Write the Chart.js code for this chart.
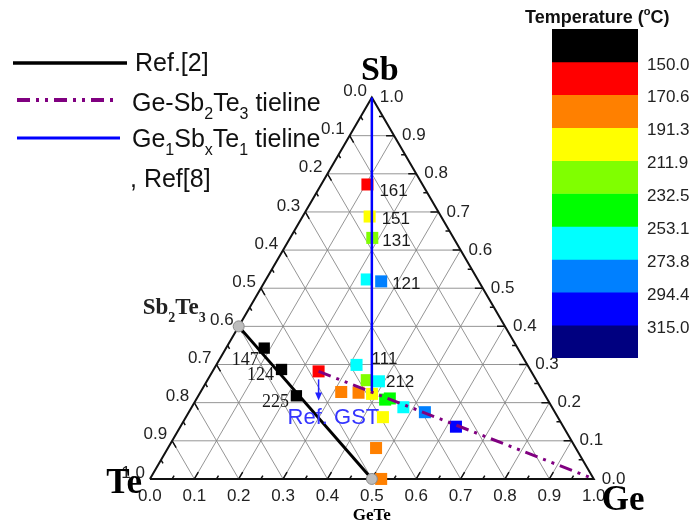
<!DOCTYPE html>
<html>
<head>
<meta charset="utf-8">
<script src="https://cdn.jsdelivr.net/npm/chart.js@4.4.0/dist/chart.umd.min.js"></script>
<style>
  html, body { margin: 0; padding: 0; background: #fff; }
  #wrap { position: relative; width: 692px; height: 531px; }
  #ternary { position: absolute; left: 0; top: 0; }
  #colorbar { position: absolute; left: 552px; top: 19px; }
</style>
</head>
<body>
<div id="wrap">
  <canvas id="ternary" width="692" height="531"></canvas>
  <canvas id="colorbar" width="140" height="349"></canvas>
</div>
<script>
// colour scale: band edges (deg C) and band colours
const tempBounds = [129.4, 150.0, 170.6, 191.3, 211.9, 232.5, 253.1, 273.8, 294.4, 315.0, 335.6];
const bandColors = ['#000000', '#ff0000', '#ff8000', '#ffff00', '#80ff00', '#00ff00', '#00ffff', '#0080ff', '#0000ff', '#000080'];

// measured films: Ge and Sb atomic fraction (Te = rest) and crystallisation temperature
const sampleGe   = [0.104, 0.151, 0.185, 0.227, 0.262, 0.239, 0.316, 0.359, 0.388, 0.317, 0.357, 0.389, 0.426, 0.435, 0.477, 0.532, 0.621, 0.444, 0.469, 0.521];
const sampleSb   = [0.772, 0.688, 0.632, 0.523, 0.518, 0.282, 0.299, 0.259, 0.256, 0.228, 0.226, 0.223, 0.208, 0.211, 0.188, 0.175, 0.137, 0.162, 0.081, 0.000];
const sampleTemp = [160,   201,   222,   263,   284,   160,   263,   222,   263,   181,   181,   201,   243,   243,   263,   284,   305,   201,   181,   181];

// composition names written next to some samples: [sample index, text, dx, dy]
const sampleNames = [[0, '161', 12, 7], [1, '151', 12, 3], [2, '131', 10, 3], [4, '121', 11, 3], [6, '111', 15, -6], [8, '212', 7, 1]];
const gstIndex = 5;

// Ref.[2] compositions along the GeTe-Sb2Te3 line
const refGe = [0.086, 0.153, 0.221];
const refSb = [0.343, 0.287, 0.218];
const refNames = ['147', '124', '225'];

// tielines
const gstLineSb = [1.0, 0.23];            // Ge1SbxTe1, Ge = Te
const geLineGe = [0.239, 1.0];            // towards pure Ge
const geLineSb = [0.282, 0.0];
const endGe = [0.0, 0.5];                 // Sb2Te3 and GeTe
const endSb = [0.4, 0.0];

const axisTicks = [0.0, 0.1, 0.2, 0.3, 0.4, 0.5, 0.6, 0.7, 0.8, 0.9, 1.0];
const minorTicks = [0.05, 0.15, 0.25, 0.35, 0.45, 0.55, 0.65, 0.75, 0.85, 0.95];

const SQ = Math.sqrt(3) / 2;
const GAP = {x: NaN, y: NaN};
function tern(ge, sb) { return {x: ge + sb / 2, y: sb * SQ}; }

function bandColor(t) {
  for (let i = 0; i < bandColors.length; i++) {
    if (t >= tempBounds[i] && t < tempBounds[i + 1]) return bandColors[i];
  }
  return bandColors[bandColors.length - 1];
}

// grid lines, three families
let gridPts = [];
axisTicks.slice(1, -1).forEach(t => {
  gridPts.push(tern(1 - t, t), tern(0, t), GAP);
  gridPts.push(tern(t, 0), tern(t, 1 - t), GAP);
  gridPts.push(tern(1 - t, 0), tern(0, 1 - t), GAP);
});

// tick marks on the three edges
function tickPts(list, len) {
  let pts = [];
  list.forEach(t => {
    pts.push(tern(t, 0), tern(t, len), GAP);
    pts.push(tern(1 - t, t), tern(1 - t - len, t), GAP);
    pts.push(tern(0, 1 - t), tern(len, 1 - t - len), GAP);
  });
  return pts;
}
let ticks = tickPts(axisTicks.slice(1, -1), 0.018).concat(tickPts(minorTicks, 0.009));

const edgePts = [tern(0, 0), tern(1, 0), tern(0, 1), tern(0, 0)];
const samples = sampleGe.map((g, i) => tern(g, sampleSb[i]));
const refs = refGe.map((g, i) => tern(g, refSb[i]));

const FONT = "'Liberation Sans', Arial, sans-serif";
const SERIF = "'Liberation Serif', 'Times New Roman', serif";

// text with sub/superscript runs: [text, 'sub'|'sup'|'']
function drawRuns(ctx, runs, x, y, size, weight, family, align) {
  const small = Math.round(size * 0.62);
  const fontOf = k => weight + ' ' + (k ? small : size) + 'px ' + family;
  let w = 0;
  runs.forEach(r => { ctx.font = fontOf(r[1]); w += ctx.measureText(r[0]).width; });
  let cx = align === 'right' ? x - w : align === 'center' ? x - w / 2 : x;
  ctx.textAlign = 'left';
  ctx.textBaseline = 'alphabetic';
  runs.forEach(r => {
    ctx.font = fontOf(r[1]);
    const dy = r[1] === 'sub' ? size * 0.32 : r[1] === 'sup' ? -size * 0.45 : 0;
    ctx.fillText(r[0], cx, y + dy);
    cx += ctx.measureText(r[0]).width;
  });
}

const textPlugin = {
  id: 'ternaryText',
  afterDatasetsDraw(chart) {
    const ctx = chart.ctx;
    const xs = chart.scales.x, ys = chart.scales.y;
    const pix = p => ({x: xs.getPixelForValue(p.x), y: ys.getPixelForValue(p.y)});
    ctx.save();

    // axis numbers
    ctx.fillStyle = '#222';
    ctx.font = '17px ' + FONT;
    ctx.textBaseline = 'middle';
    axisTicks.forEach(t => {
      const s = t.toFixed(1);
      let p = pix(tern(t, 0));
      ctx.textAlign = 'center';
      ctx.fillText(s, p.x, p.y + 17);
      p = pix(tern(1 - t, t));
      ctx.textAlign = 'left';
      ctx.fillText(s, p.x + 8, p.y);
      p = pix(tern(0, 1 - t));
      ctx.textAlign = 'right';
      ctx.fillText(s, p.x - 5, p.y - 6);
    });

    // corner names
    ctx.fillStyle = '#000';
    const te = pix(tern(0, 0)), ge = pix(tern(1, 0)), sb = pix(tern(0, 1));
    drawRuns(ctx, [['Sb', '']], sb.x + 8, sb.y - 18, 34, 'bold', SERIF, 'center');
    drawRuns(ctx, [['Te', '']], te.x - 8, te.y + 14, 35, 'bold', SERIF, 'right');
    drawRuns(ctx, [['Ge', '']], ge.x + 8, ge.y + 31, 35, 'bold', SERIF, 'left');
    const gt = pix(tern(endGe[1], endSb[1])), st = pix(tern(endGe[0], endSb[0]));
    drawRuns(ctx, [['GeTe', '']], gt.x, gt.y + 41, 17, 'bold', SERIF, 'center');
    ctx.fillStyle = '#222';
    drawRuns(ctx, [['Sb', ''], ['2', 'sub'], ['Te', ''], ['3', 'sub']], st.x - 96, st.y - 12, 23, 'bold', SERIF, 'left');

    // sample names
    ctx.fillStyle = '#1a1a1a';
    ctx.font = '17px ' + FONT;
    ctx.textAlign = 'left';
    ctx.textBaseline = 'middle';
    sampleNames.forEach(n => {
      const p = pix(samples[n[0]]);
      ctx.fillText(n[1], p.x + n[2], p.y + n[3]);
    });
    ctx.font = '18px ' + SERIF;
    ctx.textAlign = 'center';
    const refOff = [[-19, 12], [-21, 6], [-21, 6]];
    refNames.forEach((n, i) => {
      const p = pix(refs[i]);
      ctx.fillText(n, p.x + refOff[i][0], p.y + refOff[i][1]);
    });

    // Ref. GST arrow and name
    const g = pix(samples[gstIndex]);
    ctx.strokeStyle = '#2020ff';
    ctx.fillStyle = '#2020ff';
    ctx.lineWidth = 1.5;
    ctx.beginPath();
    ctx.moveTo(g.x, g.y + 8);
    ctx.lineTo(g.x, g.y + 26);
    ctx.stroke();
    ctx.beginPath();
    ctx.moveTo(g.x - 3.5, g.y + 21);
    ctx.lineTo(g.x + 3.5, g.y + 21);
    ctx.lineTo(g.x, g.y + 29);
    ctx.closePath();
    ctx.fill();
    ctx.fillStyle = '#3535ff';
    drawRuns(ctx, [['Ref. GST', '']], g.x - 31, g.y + 53, 22, 'normal', FONT, 'left');

    // legend
    ctx.lineCap = 'butt';
    ctx.strokeStyle = '#000';
    ctx.lineWidth = 3.5;
    ctx.beginPath(); ctx.moveTo(13, 63); ctx.lineTo(127, 63); ctx.stroke();
    ctx.strokeStyle = '#800080';
    ctx.lineWidth = 4;
    ctx.setLineDash([13, 6, 3, 6, 3, 6]);
    ctx.beginPath(); ctx.moveTo(17, 100); ctx.lineTo(119, 100); ctx.stroke();
    ctx.setLineDash([]);
    ctx.strokeStyle = '#0000ff';
    ctx.lineWidth = 3;
    ctx.beginPath(); ctx.moveTo(17, 138); ctx.lineTo(120, 138); ctx.stroke();
    ctx.fillStyle = '#111';
    drawRuns(ctx, [['Ref.[2]', '']], 135, 71, 25, 'normal', FONT, 'left');
    drawRuns(ctx, [['Ge-Sb', ''], ['2', 'sub'], ['Te', ''], ['3', 'sub'], [' tieline', '']], 132, 111, 25, 'normal', FONT, 'left');
    drawRuns(ctx, [['Ge', ''], ['1', 'sub'], ['Sb', ''], ['x', 'sub'], ['Te', ''], ['1', 'sub'], [' tieline', '']], 132, 147, 25, 'normal', FONT, 'left');
    drawRuns(ctx, [[', Ref[8]', '']], 130, 187, 25, 'normal', FONT, 'left');

    // colour scale title
    drawRuns(ctx, [['Temperature (', ''], ['o', 'sup'], ['C)', '']], 525, 23, 18, 'bold', FONT, 'left');
    ctx.restore();
  }
};

function lineSet(data, color, width, order, dash) {
  return {data: data, showLine: true, borderColor: color, borderWidth: width, pointRadius: 0,
          borderDash: dash || [], order: order, clip: false, spanGaps: false, tension: 0};
}

new Chart(document.getElementById('ternary'), {
  type: 'scatter',
  data: {
    datasets: [
      {data: [tern(endGe[0], endSb[0]), tern(endGe[1], endSb[1])], pointStyle: 'circle', pointRadius: 5.5,
       backgroundColor: '#bdbdbd', borderColor: '#8a8a8a', borderWidth: 1, order: 0, clip: false},
      lineSet([tern(0, gstLineSb[0]), tern((1 - gstLineSb[1]) / 2, gstLineSb[1])], '#0000ff', 2.5, 1),
      lineSet([tern(geLineGe[0], geLineSb[0]), tern(geLineGe[1], geLineSb[1])], '#800080', 3, 1, [13, 6, 3, 6, 3, 6]),
      lineSet([tern(endGe[0], endSb[0]), tern(endGe[1], endSb[1])], '#000000', 3, 1),
      {data: samples, pointStyle: 'rect', pointRadius: 8.5, backgroundColor: sampleTemp.map(bandColor),
       borderWidth: 0, order: 2, clip: false},
      {data: refs, pointStyle: 'rect', pointRadius: 8, backgroundColor: '#000', borderWidth: 0, order: 2, clip: false},
      lineSet(edgePts, '#111', 2, 5),
      lineSet(ticks, '#111', 1.5, 5),
      lineSet(gridPts, 'rgba(130,130,130,0.85)', 1, 6)
    ]
  },
  options: {
    responsive: false,
    animation: false,
    events: [],
    layout: {padding: 0},
    plugins: {legend: {display: false}, tooltip: {enabled: false}},
    scales: {
      x: {type: 'linear', display: false, min: -145 / 455, max: (692 - 145) / 455},
      y: {type: 'linear', display: false, min: -45 / 455, max: 486 / 455}
    }
  },
  plugins: [textPlugin]
});

// colour scale drawn as floating bars on a temperature axis
new Chart(document.getElementById('colorbar'), {
  type: 'bar',
  data: {
    labels: [''],
    datasets: bandColors.map((c, i) => ({
      data: [[tempBounds[i], tempBounds[i + 1]]],
      backgroundColor: c, borderWidth: 0, barPercentage: 1, categoryPercentage: 1
    }))
  },
  options: {
    responsive: false,
    animation: false,
    events: [],
    layout: {padding: {top: 10, bottom: 10, left: 0, right: 0}},
    plugins: {legend: {display: false}, tooltip: {enabled: false}},
    scales: {
      x: {display: false, stacked: true},
      y: {
        position: 'right', reverse: true, min: tempBounds[0], max: tempBounds[tempBounds.length - 1],
        grid: {display: false, drawTicks: false}, border: {display: false},
        afterBuildTicks: s => { s.ticks = tempBounds.slice(1, -1).map(v => ({value: v})); },
        afterFit: s => { s.width = 54; s.paddingTop = 0; s.paddingBottom = 0; },
        ticks: {padding: 9, labelOffset: 3, color: '#222', font: {family: FONT, size: 17}, callback: v => v.toFixed(1)}
      }
    }
  }
});
</script>
</body>
</html>
